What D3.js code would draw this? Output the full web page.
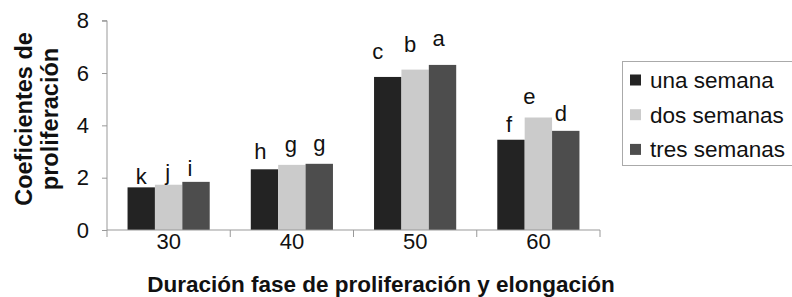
<!DOCTYPE html>
<html><head><meta charset="utf-8">
<script src="https://cdn.jsdelivr.net/npm/d3@7"></script>
<style>
html,body{margin:0;padding:0;background:#fff;}
svg{display:block;font-family:"Liberation Sans",Arial,sans-serif;}
</style></head>
<body>
<svg id="chart" width="792" height="297"></svg>
<script>
const categories = ["30", "40", "50", "60"];
const seriesNames = ["una semana", "dos semanas", "tres semanas"];
const unaSemana = [1.63, 2.32, 5.85, 3.45];
const dosSemanas = [1.73, 2.49, 6.13, 4.30];
const tresSemanas = [1.84, 2.53, 6.31, 3.79];
const letters = [["k","h","c","f"],["j","g","b","e"],["i","g","a","d"]];
const yTicks = [0, 2, 4, 6, 8];

// layout / style (not data)
const colors = ["#232323", "#cbcbcb", "#4d4d4d"];
const labelGap = [[3,10,18,8],[5,13,18,14],[6,13,19,10]];
const labelDx = [[0,-4,-10,-2],[-1,-1,-5,-9],[-6,0,-4,-5]];

const series = [unaSemana, dosSemanas, tresSemanas];
const svg = d3.select("#chart");
const m = {left:107, right:600, top:20.7, bottom:230};

const x0 = d3.scaleBand().domain(categories).range([m.left, m.right])
  .paddingInner(1/3).paddingOuter(1/6);
const x1 = d3.scaleBand().domain(d3.range(3)).range([0, x0.bandwidth()]);
const y = d3.scaleLinear().domain([0, 8]).range([m.bottom, m.top]);

// bars
series.forEach((vals, s) => {
  svg.append("g").selectAll("rect").data(vals).join("rect")
    .attr("x", (d,i) => x0(categories[i]) + x1(s))
    .attr("y", d => y(d))
    .attr("width", x1.bandwidth())
    .attr("height", d => y(0) - y(d))
    .attr("fill", colors[s]);
  svg.append("g").selectAll("text").data(vals).join("text")
    .attr("x", (d,i) => x0(categories[i]) + x1(s) + x1.bandwidth()/2 + labelDx[s][i])
    .attr("y", (d,i) => y(d) - labelGap[s][i])
    .attr("text-anchor", "middle")
    .attr("font-size", 22)
    .attr("fill", "#111")
    .text((d,i) => letters[s][i]);
});

// y axis
const yAxis = svg.append("g").attr("transform", `translate(${m.left},0)`)
  .call(d3.axisLeft(y).tickValues(yTicks).tickSize(5).tickPadding(13).tickFormat(d3.format("d")));
yAxis.selectAll("line,path").attr("stroke", "#999");
yAxis.select(".domain").attr("d", `M-5,${y(8)}H0V${y(0)}`);
yAxis.selectAll("text").attr("font-size", 22).attr("fill", "#111")
  .attr("font-family", "Liberation Sans, Arial, sans-serif");

// x axis
const xAxis = svg.append("g").attr("transform", `translate(0,${m.bottom})`)
  .call(d3.axisBottom(x0).tickSize(0).tickPadding(3));
xAxis.select(".domain").attr("stroke", "#999").attr("d", `M${m.left},0H${m.right}`);
xAxis.selectAll("text").attr("font-size", 22).attr("fill", "#111")
  .attr("font-family", "Liberation Sans, Arial, sans-serif");
const bounds = [m.left, ...categories.map(c => x0(c) + x0.bandwidth() + x0.step()*x0.paddingInner()/2)];
bounds[bounds.length-1] = m.right;
xAxis.selectAll(".sep").data(bounds).join("line").attr("class","sep")
  .attr("x1", d => d).attr("x2", d => d).attr("y1", 0).attr("y2", 7)
  .attr("stroke", "#999");

// axis titles
const yt = svg.append("text").attr("transform", "translate(32,119) rotate(-90)")
  .attr("text-anchor", "middle").attr("font-weight", "bold").attr("font-size", 23.5).attr("fill", "#111");
yt.append("tspan").attr("x", 0).attr("y", 0).text("Coeficientes de");
yt.append("tspan").attr("x", 0).attr("y", 26).text("proliferación");

svg.append("text").attr("x", 381).attr("y", 292).attr("text-anchor", "middle")
  .attr("font-weight", "bold").attr("font-size", 22.5).attr("fill", "#111")
  .text("Duración fase de proliferación y elongación");

// legend
const lg = svg.append("g");
lg.append("rect").attr("x", 622.5).attr("y", 61.5).attr("width", 180).attr("height", 104)
  .attr("fill", "#fff").attr("stroke", "#aaa");
seriesNames.forEach((n, i) => {
  const cy = 80 + i * 34.7;
  lg.append("rect").attr("x", 630).attr("y", cy - 5.5).attr("width", 11).attr("height", 11).attr("fill", colors[i]);
  lg.append("text").attr("x", 650).attr("y", cy).attr("dy", "0.35em")
    .attr("font-size", 22.5).attr("fill", "#111").text(n);
});
</script>
</body></html>
